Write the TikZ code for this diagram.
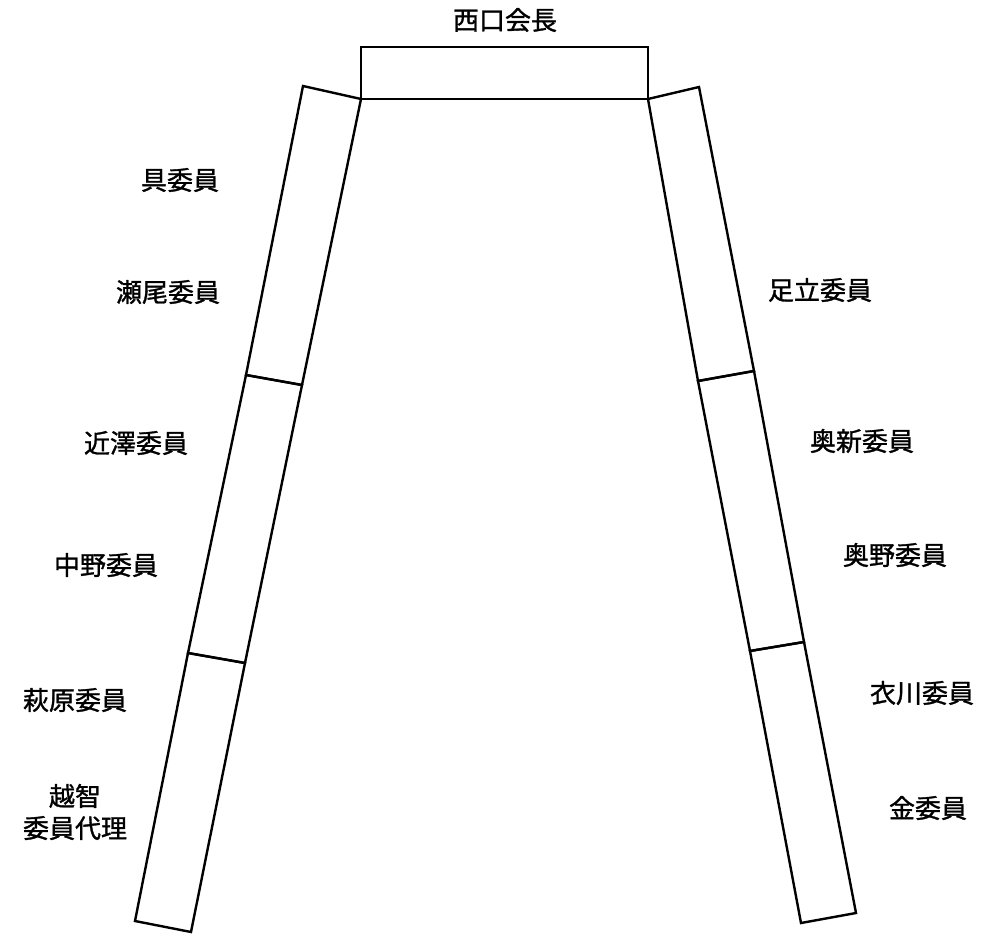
\documentclass[tikz,border=0pt]{standalone}
\usepackage{fontspec}
\newfontfamily\jp[FakeBold=1.2]{Noto Sans CJK JP}
\begin{document}
\begin{tikzpicture}[x=0.75pt,y=-0.75pt,
  tbl/.style={draw=black,line width=1.8pt,line join=miter},
  lbl/.style={font=\jp\fontsize{19.5pt}{24pt}\selectfont,inner sep=0pt,align=center}]
\useasboundingbox (0,0) rectangle (985,934);
% head table
\coordinate (h1) at (361,47); \coordinate (h2) at (648,47);
\coordinate (h3) at (648,99); \coordinate (h4) at (361,99);
\draw[tbl] (h1) -- (h2) -- (h3) -- (h4) -- cycle;
% left side
\coordinate (la) at (303,86);
\coordinate (lb) at (246,375); \coordinate (lc) at (302,385);
\coordinate (ld) at (188,653); \coordinate (le) at (245,663);
\coordinate (lf) at (135,921); \coordinate (lg) at (191,932);
\draw[tbl] (la) -- (h4) -- (lc) -- (lb) -- cycle;
\draw[tbl] (lb) -- (lc) -- (le) -- (ld) -- cycle;
\draw[tbl] (ld) -- (le) -- (lg) -- (lf) -- cycle;
% right side
\coordinate (ra) at (699,87);
\coordinate (rb) at (754,371); \coordinate (rc) at (698,381);
\coordinate (rd) at (804,642); \coordinate (re) at (750,651);
\coordinate (rf) at (856,913); \coordinate (rg) at (801,923);
\draw[tbl] (h3) -- (ra) -- (rb) -- (rc) -- cycle;
\draw[tbl] (rc) -- (rb) -- (rd) -- (re) -- cycle;
\draw[tbl] (re) -- (rd) -- (rf) -- (rg) -- cycle;
% labels
\node[lbl] (chair) at (505,20) {西口会長};
\node[lbl] (l1) at (180,180) {具委員};
\node[lbl] (l2) at (168,292) {瀬尾委員};
\node[lbl] (l3) at (136,443) {近澤委員};
\node[lbl] (l4) at (106,565) {中野委員};
\node[lbl] (l5) at (75,700) {萩原委員};
\node[lbl] (l6) at (75,812) {越智\\委員代理};
\node[lbl] (r1) at (820,290) {足立委員};
\node[lbl] (r2) at (862,441) {奥新委員};
\node[lbl] (r3) at (895,555) {奥野委員};
\node[lbl] (r4) at (922,693) {衣川委員};
\node[lbl] (r5) at (928,808) {金委員};
\end{tikzpicture}
\end{document}
